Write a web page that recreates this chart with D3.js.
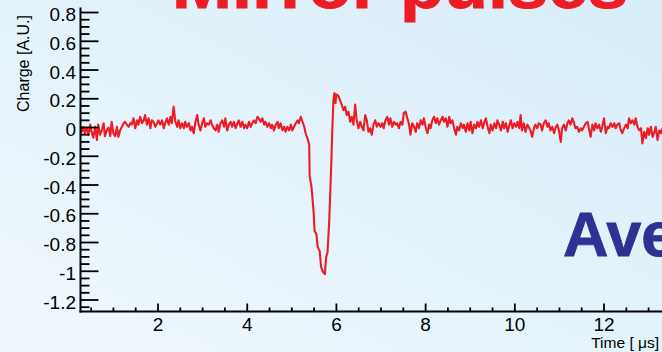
<!DOCTYPE html>
<html><head><meta charset="utf-8">
<script src="https://cdn.jsdelivr.net/npm/d3@7"></script>
<style>html,body{margin:0;padding:0;overflow:hidden;background:#fff}</style>
</head><body>
<svg id="chart" width="662" height="352"></svg>
<script>
// ---- data ----
const timeUs = [
0.25,0.29,0.33,0.36,0.40,0.44,0.48,0.51,0.55,0.59,
0.63,0.66,0.70,0.74,0.78,0.81,0.85,0.89,0.93,0.96,
1.00,1.04,1.08,1.11,1.15,1.19,1.23,1.26,1.30,1.34,
1.38,1.41,1.45,1.49,1.53,1.56,1.60,1.64,1.68,1.71,
1.75,1.79,1.83,1.86,1.90,1.94,1.98,2.01,2.05,2.09,
2.13,2.16,2.20,2.24,2.28,2.31,2.35,2.39,2.43,2.46,
2.50,2.54,2.58,2.61,2.65,2.69,2.73,2.76,2.80,2.84,
2.88,2.91,2.95,2.99,3.03,3.06,3.10,3.14,3.18,3.21,
3.25,3.29,3.33,3.36,3.40,3.44,3.48,3.51,3.55,3.59,
3.63,
3.66,3.70,3.74,3.78,3.81,3.85,3.89,3.93,3.96,4.00,
4.04,4.08,4.11,4.15,4.19,4.23,4.26,4.30,4.34,4.38,
4.41,4.45,4.49,4.53,4.56,4.60,4.64,4.68,4.71,4.75,
4.79,4.83,4.86,4.90,4.94,4.98,5.01,5.05,5.09,5.13,
5.16,5.20,5.24,5.28,5.31,5.35,5.39,
5.40,5.44,5.49,5.51,5.55,5.58,5.625,5.656,5.69,5.74,
5.77,5.80,5.836,5.865,5.888,5.91,5.933,5.955,5.98,6.00,
6.045,6.119,6.157,6.196,6.231,6.270,6.308,6.344,6.382,6.420,
6.456,6.494,6.533,6.569,6.607,6.645,6.681,6.719,6.757,6.793,
6.831,6.870,6.906,6.944,
6.99,7.03,7.06,7.10,7.14,7.18,7.21,7.25,7.29,7.33,
7.36,7.40,7.44,7.48,7.51,7.55,7.59,7.63,7.66,7.70,
7.74,7.78,7.81,7.85,7.89,7.93,7.96,8.00,8.04,8.08,
8.11,8.15,8.19,8.23,8.26,8.30,8.34,8.38,8.41,8.45,
8.49,8.53,8.56,8.60,8.64,8.68,8.71,8.75,8.79,8.83,
8.86,8.90,8.94,8.98,9.01,9.05,9.09,9.13,9.16,9.20,
9.24,9.28,9.31,9.35,9.39,9.43,9.46,9.50,9.54,9.58,
9.61,9.65,9.69,9.73,9.76,9.80,9.84,9.88,9.91,9.95,
9.99,10.03,10.06,10.10,
10.13,10.16,10.20,10.24,10.28,10.31,10.35,10.39,10.43,10.46,
10.50,10.54,10.58,10.61,10.65,10.69,10.73,10.76,10.80,10.84,
10.88,10.91,10.95,10.99,11.03,11.06,11.10,11.14,11.18,11.21,
11.25,11.29,11.33,11.36,11.40,11.44,11.48,11.51,11.55,11.59,
11.63,11.66,11.70,11.74,11.78,11.81,11.85,11.89,11.93,11.96,
12.00,12.04,12.08,12.11,12.15,12.19,12.23,12.26,12.30,12.34,
12.38,12.41,12.45,12.49,12.53,12.56,12.60,12.64,12.68,12.71,
12.75,12.79,12.83,12.86,12.90,12.94,12.98,13.01,13.05,13.09,
13.13,13.16,13.20,13.24,13.28,13.31,13.35
];
const charge = [
0.00,-0.03,0.005,-0.04,0.00,-0.05,0.02,-0.03,-0.07,0.005,
-0.087,0.02,-0.05,-0.02,0.03,-0.06,-0.02,0.00,-0.06,0.04,
-0.04,-0.06,0.005,-0.065,-0.02,0.005,0.03,0.04,0.02,0.005,
0.03,0.02,0.064,-0.005,0.05,0.02,0.075,0.03,0.05,0.087,
0.02,0.064,-0.005,0.05,0.04,0.005,0.03,0.05,0.02,0.05,
-0.005,0.03,0.064,0.02,0.075,0.03,0.145,0.04,0.005,0.05,
-0.005,0.03,-0.005,0.04,0.005,0.03,-0.02,0.005,-0.04,0.04,
0.087,0.02,-0.02,0.03,0.064,0.005,0.03,0.02,0.05,0.02,
-0.005,-0.02,0.02,-0.03,0.03,0.05,0.005,0.064,-0.02,0.02,
0.04,
0.005,0.04,-0.005,0.03,0.05,0.005,0.04,-0.005,0.02,-0.005,
0.04,0.005,0.03,0.05,0.03,0.075,0.064,0.04,0.064,0.02,
0.04,0.005,0.03,-0.005,0.02,-0.02,0.02,0.04,-0.005,0.03,
-0.02,0.005,-0.03,0.005,-0.02,0.02,-0.02,0.005,0.03,0.05,
0.03,0.075,0.04,0.005,-0.04,-0.075,-0.12,
-0.34,-0.41,-0.59,-0.72,-0.74,-0.83,-0.86,-0.97,-1.0,-1.02,
-0.9,-0.87,-0.67,-0.43,-0.22,0.0,0.19,0.24,0.17,0.23,
0.22,0.16,0.12,0.145,0.087,0.11,0.04,0.075,0.02,0.16,
0.05,-0.005,0.04,0.005,-0.02,0.087,0.05,-0.03,-0.005,-0.05,
0.02,0.05,0.005,0.03,
0.005,0.03,-0.005,0.05,0.075,0.02,0.064,0.005,0.04,0.02,
0.03,-0.005,0.04,0.02,0.1,0.11,0.064,0.02,-0.05,0.03,
0.005,-0.03,0.03,-0.005,0.05,0.02,0.064,0.005,-0.04,0.02,
-0.005,0.05,0.075,0.03,0.064,0.02,0.05,0.075,0.04,0.064,
0.005,0.075,0.03,0.05,-0.005,-0.05,0.005,-0.02,0.03,-0.005,
0.02,-0.03,0.03,-0.02,0.04,-0.04,0.02,-0.005,0.04,0.005,
0.05,-0.005,0.03,0.064,0.005,-0.04,0.02,-0.02,0.03,-0.005,
0.05,0.02,-0.02,0.04,-0.005,0.03,-0.03,0.02,0.05,-0.005,
0.03,0.005,0.04,-0.005,
0.087,-0.02,0.03,-0.03,0.02,0.005,-0.02,-0.065,-0.005,0.02,
-0.005,0.03,0.02,-0.02,0.03,0.05,0.005,0.03,-0.02,0.005,
-0.04,-0.005,0.02,-0.02,-0.1,-0.005,0.02,-0.02,0.03,0.05,
0.02,0.064,0.03,-0.005,0.005,-0.03,-0.005,-0.02,0.005,0.03,
0.04,-0.005,-0.065,0.02,-0.02,0.03,-0.005,0.02,-0.03,0.005,
0.064,-0.04,0.005,-0.005,0.03,0.005,0.03,-0.005,0.02,0.03,
-0.02,-0.04,-0.005,0.02,-0.005,0.064,0.03,0.05,0.02,0.064,
0.005,-0.02,-0.005,-0.11,-0.03,-0.075,-0.005,-0.05,0.005,-0.065,
-0.03,0.005,-0.087,-0.02,-0.04,-0.005,-0.02
];
const xTickValues = [2, 4, 6, 8, 10, 12];
const xTickLabels = ["2", "4", "6", "8", "10", "12"];
const yTickValues = [-1.2, -1, -0.8, -0.6, -0.4, -0.2, 0, 0.2, 0.4, 0.6, 0.8];
const yTickLabels = ["-1.2", "-1", "-0.8", "-0.6", "-0.4", "-0.2", "0", "0.2", "0.4", "0.6", "0.8"];
const titleText = "Mirror pulses";
const overlayText = "Average";
const xLabel = "Time [ \u03bcs]";
const yLabel = "Charge [A.U.]";

// ---- layout ----
const W = 662, H = 352;
const L = 80.5, R = 662, T = 7.5, B = 311.5;
const FONT = "'Liberation Sans', Arial, Helvetica, sans-serif";

const x = d3.scaleLinear().domain([0.262, 13.30]).range([L, R]);
const y = d3.scaleLinear().domain([-1.28, 0.835]).range([B, T]);

const svg = d3.select("#chart");
const defs = svg.append("defs");
const grad = defs.append("linearGradient").attr("id", "bg")
  .attr("x1", 0).attr("y1", 1).attr("x2", 1).attr("y2", 0);
grad.append("stop").attr("offset", 0).attr("stop-color", "#f0f8fd");
grad.append("stop").attr("offset", 1).attr("stop-color", "#d7edf9");
defs.append("clipPath").attr("id", "plotclip").append("rect")
  .attr("x", L).attr("y", 0).attr("width", R - L).attr("height", B);

svg.append("rect").attr("width", W).attr("height", H).attr("fill", "url(#bg)");

// decorative overlay texts
svg.append("text").attr("x", 172).attr("y", 7.5)
  .attr("font-family", FONT).attr("font-weight", "bold").attr("font-size", 66)
  .attr("textLength", 456).attr("lengthAdjust", "spacingAndGlyphs")
  .attr("fill", "#ed1c24").attr("stroke", "#ed1c24").attr("stroke-width", 1)
  .text(titleText);
svg.append("text").attr("x", 563).attr("y", 256)
  .attr("font-family", FONT).attr("font-weight", "bold").attr("font-size", 63)
  .attr("fill", "#2e3192").attr("stroke", "#2e3192").attr("stroke-width", 0.8)
  .text(overlayText);

// data line
const pts = d3.zip(timeUs, charge);
svg.append("path")
  .attr("clip-path", "url(#plotclip)")
  .attr("d", d3.line().x(d => x(d[0])).y(d => y(d[1]))(pts))
  .attr("fill", "none").attr("stroke", "#ed1c24").attr("stroke-width", 2.1)
  .attr("stroke-linejoin", "round");

// axes
const ax = svg.append("g").attr("stroke", "#000");
ax.append("line").attr("x1", L).attr("x2", L).attr("y1", T).attr("y2", B + 1).attr("stroke-width", 2);
ax.append("line").attr("x1", L - 1).attr("x2", R).attr("y1", B).attr("y2", B).attr("stroke-width", 2);

const yMinor = d3.range(-25, 17).filter(k => k % 4 !== 0).map(k => k * 0.05);
ax.selectAll("line.ymin").data(yMinor).join("line").attr("class", "ymin")
  .attr("x1", L).attr("x2", L + 9).attr("y1", d => y(d)).attr("y2", d => y(d)).attr("stroke-width", 1.8);
ax.selectAll("line.ymaj").data(yTickValues).join("line").attr("class", "ymaj")
  .attr("x1", L).attr("x2", L + 18).attr("y1", d => y(d)).attr("y2", d => y(d)).attr("stroke-width", 1.8);

const xMinor = d3.range(1, 27).filter(k => k % 4 !== 0).map(k => k * 0.5).filter(v => x(v) < R);
ax.selectAll("line.xmin").data(xMinor).join("line").attr("class", "xmin")
  .attr("x1", d => x(d)).attr("x2", d => x(d)).attr("y1", B).attr("y2", B - 4).attr("stroke-width", 1.8);
ax.selectAll("line.xmaj").data(xTickValues).join("line").attr("class", "xmaj")
  .attr("x1", d => x(d)).attr("x2", d => x(d)).attr("y1", B).attr("y2", B - 8).attr("stroke-width", 1.8);

const lab = svg.append("g").attr("font-family", FONT).attr("fill", "#000");
lab.selectAll("text.yl").data(yTickValues).join("text").attr("class", "yl")
  .attr("x", 76).attr("y", d => y(d) + 8.5).attr("text-anchor", "end").attr("font-size", 19)
  .text((d, i) => yTickLabels[i]);
lab.selectAll("text.xl").data(xTickValues).join("text").attr("class", "xl")
  .attr("x", d => x(d)).attr("y", 330.5).attr("text-anchor", "middle").attr("font-size", 19)
  .text((d, i) => xTickLabels[i]);
lab.append("text").attr("x", 659).attr("y", 347.5).attr("text-anchor", "end").attr("font-size", 15.5)
  .text(xLabel);
lab.append("text").attr("transform", "translate(28.5,63.5) rotate(-90)").attr("text-anchor", "middle")
  .attr("font-size", 16).text(yLabel);
</script>
</body></html>
